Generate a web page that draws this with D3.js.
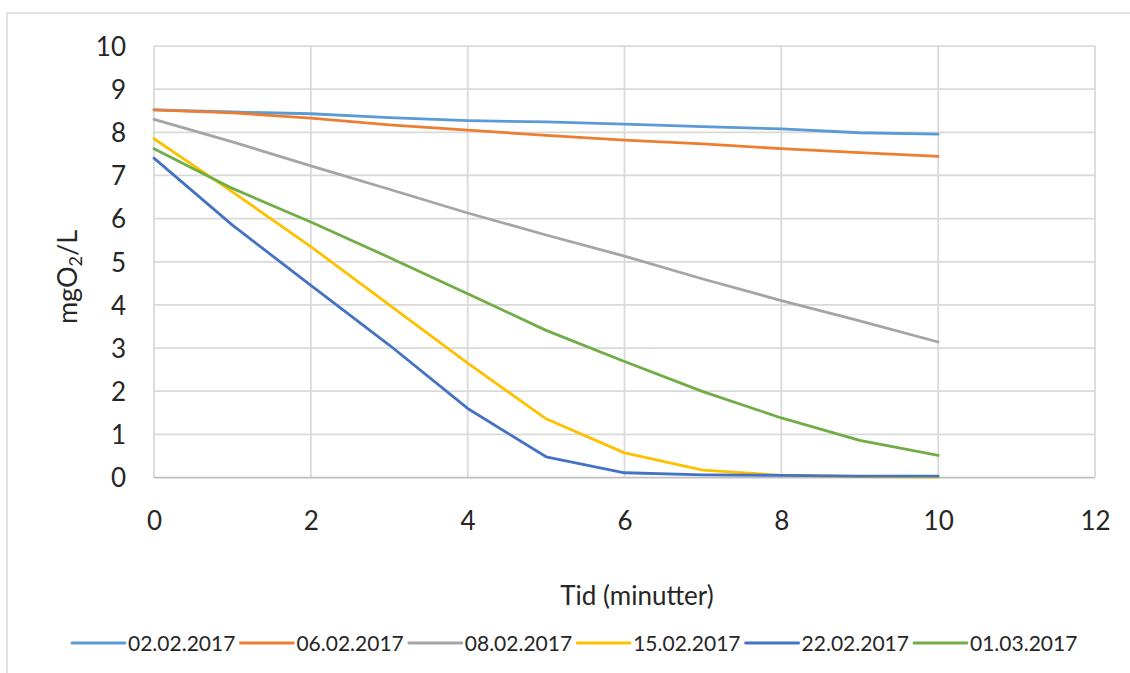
<!DOCTYPE html>
<html>
<head>
<meta charset="utf-8">
<script src="https://cdn.jsdelivr.net/npm/d3@7/dist/d3.min.js"></script>
<style>
  html, body { margin: 0; padding: 0; background: #fff; }
  svg { display: block; }
  text { font-family: Lato, "Open Sans", sans-serif; fill: #262626; }
</style>
</head>
<body>
<svg id="chart" width="1130" height="673"></svg>
<script>
// ---- Data ----
const minutes = [0, 1, 2, 3, 4, 5, 6, 7, 8, 9, 10];
const seriesNames = ["02.02.2017", "06.02.2017", "08.02.2017", "15.02.2017", "22.02.2017", "01.03.2017"];
const s_0202 = [8.52, 8.47, 8.43, 8.34, 8.27, 8.24, 8.19, 8.13, 8.08, 7.99, 7.96];
const s_0602 = [8.52, 8.45, 8.33, 8.17, 8.05, 7.93, 7.82, 7.73, 7.62, 7.53, 7.44];
const s_0802 = [8.30, 7.78, 7.22, 6.68, 6.13, 5.62, 5.13, 4.60, 4.10, 3.63, 3.14];
const s_1502 = [7.85, 6.62, 5.35, 4.00, 2.65, 1.36, 0.57, 0.17, 0.05, 0.02, 0.01];
const s_2202 = [7.40, 5.85, 4.45, 3.07, 1.60, 0.48, 0.11, 0.06, 0.05, 0.03, 0.03];
const s_0103 = [7.62, 6.70, 5.92, 5.10, 4.26, 3.41, 2.69, 1.99, 1.38, 0.86, 0.51];
const seriesValues = [s_0202, s_0602, s_0802, s_1502, s_2202, s_0103];
const colors = ["#5B9BD5", "#ED7D31", "#A5A5A5", "#FFC000", "#4472C4", "#70AD47"];
const xTicks = [0, 2, 4, 6, 8, 10, 12];
const yTicks = [0, 1, 2, 3, 4, 5, 6, 7, 8, 9, 10];

// ---- Layout ----
const svg = d3.select("#chart");
const plot = { left: 154, right: 1095, top: 46, bottom: 477.5 };

// outer chart border
svg.append("rect")
  .attr("x", 7).attr("y", 13).attr("width", 1140).attr("height", 700)
  .attr("fill", "#fff").attr("stroke", "#d9d9d9").attr("stroke-width", 1.5);

const x = d3.scaleLinear().domain([0, 12]).range([plot.left, plot.right]);
const y = d3.scaleLinear().domain([0, 10]).range([plot.bottom, plot.top]);

// gridlines
const grid = svg.append("g");
grid.selectAll("line.h").data(yTicks.filter(d => d > 0)).enter().append("line")
  .attr("x1", plot.left).attr("x2", plot.right)
  .attr("y1", d => y(d)).attr("y2", d => y(d))
  .attr("stroke", "#d9d9d9").attr("stroke-width", 1.75);
grid.selectAll("line.v").data(xTicks).enter().append("line")
  .attr("y1", plot.top).attr("y2", plot.bottom)
  .attr("x1", d => x(d)).attr("x2", d => x(d))
  .attr("stroke", "#d9d9d9").attr("stroke-width", 1.75);

// x axis line (bottom)
svg.append("line")
  .attr("x1", plot.left).attr("x2", plot.right)
  .attr("y1", y(0)).attr("y2", y(0))
  .attr("stroke", "#bfbfbf").attr("stroke-width", 1.75);

// axes labels via d3 axes (no domain/ticks lines)
const yAxis = svg.append("g")
  .attr("transform", `translate(${plot.left},0)`)
  .call(d3.axisLeft(y).tickValues(yTicks).tickSize(0).tickPadding(28).tickFormat(d3.format("d")));
yAxis.select(".domain").remove();
yAxis.selectAll("text").attr("font-size", 26).attr("font-family", "Lato").attr("fill", "#262626").attr("dy", "0.36em");

const xAxis = svg.append("g")
  .attr("transform", `translate(0,${plot.bottom})`)
  .call(d3.axisBottom(x).tickValues(xTicks).tickSize(0).tickPadding(33).tickFormat(d3.format("d")));
xAxis.select(".domain").remove();
xAxis.selectAll("text").attr("font-size", 26).attr("font-family", "Lato").attr("fill", "#262626").attr("dy", "0.36em").attr("y", 43);

// axis titles
svg.append("text")
  .attr("x", 637).attr("y", 596).attr("text-anchor", "middle").attr("dy", "0.36em")
  .attr("font-size", 26)
  .text("Tid (minutter)");

const yTitle = svg.append("text")
  .attr("transform", "translate(67,277) rotate(-90)")
  .attr("text-anchor", "middle").attr("dy", "0.36em")
  .attr("font-size", 27);
yTitle.append("tspan").text("mgO");
yTitle.append("tspan").attr("font-size", 18).attr("dy", "0.3em").text("2");
yTitle.append("tspan").attr("dy", "-0.2em").text("/L");

// series lines
const line = d3.line().x((d, i) => x(minutes[i])).y(d => y(d));
svg.append("g").selectAll("path").data(seriesValues).enter().append("path")
  .attr("d", d => line(d))
  .attr("fill", "none")
  .attr("stroke", (d, i) => colors[i])
  .attr("stroke-width", 2.8)
  .attr("stroke-linejoin", "round")
  .attr("stroke-linecap", "round");

// legend
const legend = svg.append("g");
const legendX0 = 72, legendStep = 168.4, legendY = 643;
seriesNames.forEach((name, i) => {
  const gx = legendX0 + i * legendStep;
  legend.append("line")
    .attr("x1", gx).attr("x2", gx + 53)
    .attr("y1", legendY).attr("y2", legendY)
    .attr("stroke", colors[i]).attr("stroke-width", 2.8)
    .attr("stroke-linecap", "round");
  legend.append("text")
    .attr("x", gx + 56).attr("y", legendY).attr("dy", "0.36em")
    .attr("font-size", 21)
    .text(name);
});
</script>
</body>
</html>
